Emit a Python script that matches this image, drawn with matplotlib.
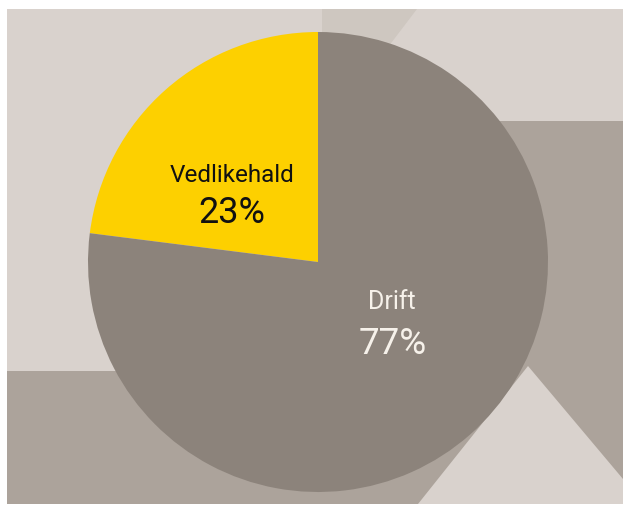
import matplotlib.pyplot as plt
from matplotlib.patches import Polygon

labels = ['Vedlikehald', 'Drift']
shares = [23, 77]
pct_labels = ['23%', '77%']
slice_colors = ['#fdd000', '#8c837b']
text_colors = ['#111111', '#f6f1ea']

W, H = 627, 510
light = '#d9d2cd'
top_shade = '#cec7c0'
mid = '#aca39b'


def flip(pts):
    # pixel coords (y down) -> axes coords (y up)
    return [(x, H - y) for x, y in pts]


fig = plt.figure(figsize=(6.27, 5.10), dpi=100)
ax = fig.add_axes([0, 0, 1, 1])

# background blocks
ax.add_patch(Polygon(flip([(7, 10), (623, 10), (623, 505), (7, 505)]), color=light, lw=0))
ax.add_patch(Polygon(flip([(322, 10), (417, 10), (360, 85), (322, 85)]), color=top_shade, lw=0))
ax.add_patch(Polygon(flip([(460, 122), (623, 122), (623, 505), (460, 505)]), color=mid, lw=0))
ax.add_patch(Polygon(flip([(7, 372), (623, 372), (623, 505), (7, 505)]), color=mid, lw=0))
ax.add_patch(Polygon(flip([(528, 367), (418, 505), (623, 505), (623, 480)]), color=light, lw=0))

ax.pie(shares, colors=slice_colors, startangle=90, counterclock=True,
       center=(318, H - 263), radius=230, frame=True,
       wedgeprops=dict(linewidth=0))
ax.set_xlim(0, W)
ax.set_ylim(0, H)
ax.set_aspect('equal')
ax.axis('off')

fam = ['Roboto', 'DejaVu Sans']
ax.text(232, H - 175, labels[0], color=text_colors[0], fontsize=17.5,
        ha='center', va='center', family=fam)
ax.text(232, H - 213, pct_labels[0], color=text_colors[0], fontsize=26,
        ha='center', va='center', family=fam)
ax.text(392, H - 302, labels[1], color=text_colors[1], fontsize=18,
        ha='center', va='center', family=fam)
ax.text(393, H - 344, pct_labels[1], color=text_colors[1], fontsize=26.5,
        ha='center', va='center', family=fam)

fig.savefig('out.png', dpi=100, facecolor='white')
